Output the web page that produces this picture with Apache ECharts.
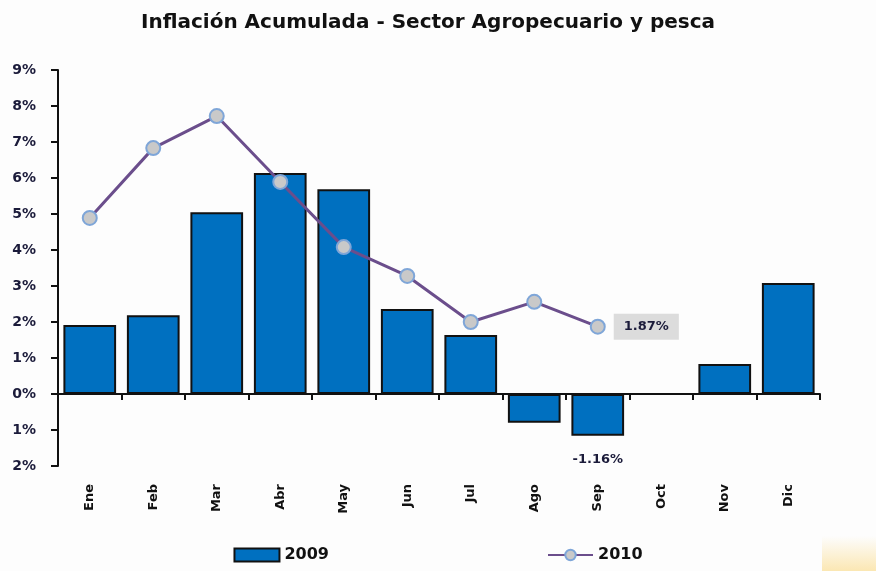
<!DOCTYPE html>
<html>
<head>
<meta charset="utf-8">
<script src="https://cdn.jsdelivr.net/npm/echarts@6/dist/echarts.min.js"></script>
<style>
    html, body { margin: 0; padding: 0; background: #fdfdfd; }
    #chart { width: 876px; height: 571px; }
</style>
</head>
<body>
<div id="chart"></div>
<script>
    // meses
    var months = ['Ene', 'Feb', 'Mar', 'Abr', 'May', 'Jun', 'Jul', 'Ago', 'Sep', 'Oct', 'Nov', 'Dic'];
    // inflación acumulada (%)
    var serie2009 = [1.92, 2.19, 5.05, 6.14, 5.69, 2.36, 1.64, -0.8, -1.16, null, 0.83, 3.08];
    var serie2010 = [4.89, 6.83, 7.72, 5.89, 4.08, 3.28, 2.0, 2.56, 1.87, null, null, null];
    var yTicks = { min: -2, max: 9, step: 1 };

    var lastBar = 8;   // Sep, etiqueta -1.16%
    var lastLine = 8;  // Sep, etiqueta 1.87%

    var font = 'DejaVu Sans';

    var chart = echarts.init(document.getElementById('chart'));

    var barData = serie2009.map(function (v, i) {
        if (i !== lastBar) return v;
        return {
            value: v,
            label: {
                show: true,
                position: 'bottom',
                distance: 17,
                formatter: function (p) { return p.value.toFixed(2) + '%'; },
                color: '#1b1b3a',
                fontWeight: 'bold',
                fontSize: 13,
                fontFamily: font
            }
        };
    });

    var lineData = serie2010.map(function (v, i) {
        if (i !== lastLine) return v;
        return {
            value: v,
            label: {
                show: true,
                position: 'right',
                distance: 8,
                formatter: function (p) { return p.value.toFixed(2) + '%'; },
                color: '#1b1b3a',
                fontWeight: 'bold',
                fontSize: 13,
                fontFamily: font,
                backgroundColor: '#dcdcdc',
                padding: [7, 10, 6, 10]
            }
        };
    });

    chart.setOption({
        backgroundColor: '#fdfdfd',
        animation: false,
        title: {
            text: 'Inflación Acumulada - Sector Agropecuario y pesca',
            left: 423,
            textAlign: 'center',
            top: 8,
            textStyle: {
                fontFamily: font,
                fontWeight: 'bold',
                fontSize: 20,
                color: '#111'
            }
        },
        legend: {
            bottom: 3,
            left: 'center',
            itemGap: 218,
            itemWidth: 45,
            itemHeight: 13,
            textStyle: {
                fontFamily: font,
                fontWeight: 'bold',
                fontSize: 16,
                color: '#111'
            },
            data: [
                { name: '2009', icon: 'rect' },
                { name: '2010' }
            ]
        },
        grid: {
            left: 58,
            right: 56,
            top: 70,
            bottom: 105
        },
        xAxis: {
            type: 'category',
            data: months,
            axisLine: { onZero: true, lineStyle: { color: '#111', width: 2 } },
            axisTick: { show: true, length: 6, lineStyle: { color: '#111', width: 2 } },
            axisLabel: {
                rotate: 90,
                margin: 18,
                interval: 0,
                fontFamily: font,
                fontWeight: 'bold',
                fontSize: 13,
                color: '#111'
            }
        },
        yAxis: {
            type: 'value',
            min: yTicks.min,
            max: yTicks.max,
            interval: yTicks.step,
            splitLine: { show: false },
            axisLine: { show: true, lineStyle: { color: '#111', width: 2 } },
            axisTick: { show: true, length: 7, lineStyle: { color: '#111', width: 2 } },
            axisLabel: {
                margin: 22,
                formatter: function (v) { return Math.abs(v) + '%'; },
                fontFamily: font,
                fontWeight: 'bold',
                fontSize: 14,
                color: '#1b1b3a'
            }
        },
        series: [
            {
                name: '2009',
                type: 'bar',
                data: barData,
                barCategoryGap: '17%',
                itemStyle: {
                    color: '#0070c0',
                    borderColor: '#111',
                    borderWidth: 2
                }
            },
            {
                name: '2010',
                type: 'line',
                data: lineData,
                symbol: 'circle',
                symbolSize: 14,
                lineStyle: { color: '#6b4e8c', width: 3 },
                itemStyle: {
                    color: '#c9c9c9',
                    borderColor: '#7fa6d8',
                    borderWidth: 2
                }
            }
        ],
        graphic: [{
            type: 'rect',
            shape: { x: 822, y: 536, width: 54, height: 35 },
            style: {
                fill: new echarts.graphic.LinearGradient(0, 0, 0, 1, [
                    { offset: 0, color: '#fdfdfd' },
                    { offset: 1, color: '#fbe7b3' }
                ])
            },
            silent: true
        }]
    });
</script>
</body>
</html>
